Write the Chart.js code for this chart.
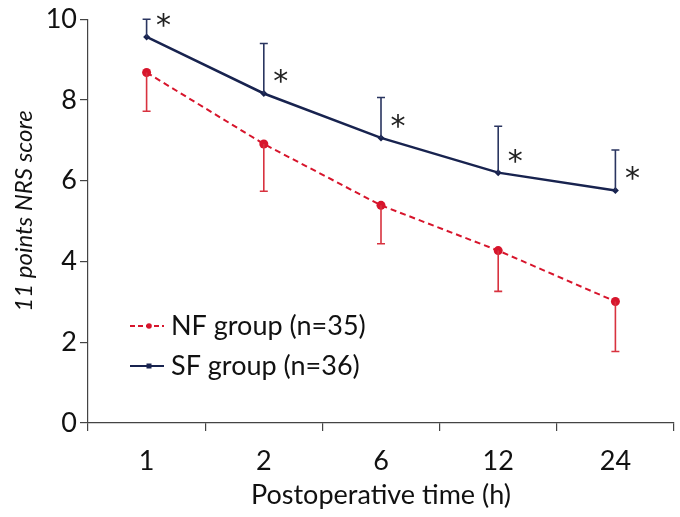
<!DOCTYPE html>
<html><head><meta charset="utf-8">
<script src="https://cdn.jsdelivr.net/npm/chart.js@4/dist/chart.umd.min.js"></script>
<style>html,body{margin:0;padding:0;background:#fff}#wrap{width:680px;height:517px}</style>
</head><body><div id="wrap"><canvas id="c" width="680" height="517"></canvas></div>
<script>
const categories = ['1','2','6','12','24'];
const nfMean = [8.68, 6.91, 5.39, 4.27, 3.01];
const nfSD   = [0.96, 1.17, 0.95, 1.01, 1.24];
const sfMean = [9.56, 8.16, 7.06, 6.20, 5.76];
const sfSD   = [0.44, 1.24, 1.00, 1.15, 1.00];
const sigMarks = ['*','*','*','*','*'];
const yTicks = [0,2,4,6,8,10];
const nfLabel = 'NF group (n=35)';
const sfLabel = 'SF group (n=36)';
const yTitle = '11 points NRS score';
const xTitle = 'Postoperative time (h)';
const RED = '#d7152c', NAVY = '#18234f';
const FONT = 'Lato, "Open Sans", sans-serif';

const errPlugin = {
  id:'err',
  afterDatasetsDraw(chart){
    const ctx = chart.ctx, xs = chart.scales.x, ys = chart.scales.y;
    const draw = (mean, sd, dir, color) => {
      ctx.save(); ctx.strokeStyle = color; ctx.lineWidth = 1.6;
      mean.forEach((m,i)=>{
        const x = xs.getPixelForValue(i);
        const y0 = ys.getPixelForValue(m), y1 = ys.getPixelForValue(m + dir*sd[i]);
        ctx.beginPath(); ctx.moveTo(x,y0); ctx.lineTo(x,y1);
        ctx.moveTo(x-4,y1); ctx.lineTo(x+4,y1); ctx.stroke();
      });
      ctx.restore();
    };
    draw(nfMean, nfSD, -1, '#d8323f');
    draw(sfMean, sfSD, 1, '#2a3560');
    // asterisks
    ctx.save(); ctx.fillStyle='#222'; ctx.font='30px "DejaVu Sans", sans-serif';
    ctx.textAlign='center'; ctx.textBaseline='alphabetic';
    sfMean.forEach((m,i)=>{
      const x = xs.getPixelForValue(i), y = ys.getPixelForValue(m);
      ctx.fillText(sigMarks[i], x+17, y-2);
    });
    ctx.restore();
    // legend
    const items = [[nfLabel, RED, [5,3], 'circle', 326],[sfLabel, NAVY, [], 'rect', 366]];
    items.forEach(([lab,col,dash,pt,y])=>{
      ctx.save(); ctx.strokeStyle=col; ctx.fillStyle=col; ctx.lineWidth=1.8; ctx.setLineDash(dash);
      ctx.beginPath(); ctx.moveTo(130,y); ctx.lineTo(164,y); ctx.stroke();
      ctx.setLineDash([]);
      if(pt==='circle'){ctx.beginPath(); ctx.arc(149,y,2.8,0,Math.PI*2); ctx.fill();}
      else ctx.fillRect(146.5,y-2.5,5,5);
      ctx.fillStyle='#111'; ctx.font='27px '+FONT; ctx.textBaseline='middle'; ctx.textAlign='left';
      ctx.fillText(lab, 171, y);
      ctx.restore();
    });
    // y title
    ctx.save(); ctx.translate(24, 211); ctx.rotate(-Math.PI/2);
    ctx.fillStyle='#111'; ctx.font='italic 24px '+FONT; ctx.textAlign='center'; ctx.textBaseline='middle';
    ctx.fillText(yTitle, 0, 0); ctx.restore();
  }
};

new Chart(document.getElementById('c'), {
  type:'line',
  data:{labels:categories, datasets:[
    {label:nfLabel, data:nfMean, borderColor:RED, backgroundColor:RED, borderWidth:2, borderDash:[6,4],
     pointRadius:4.5, pointStyle:'circle', pointBorderWidth:0, tension:0},
    {label:sfLabel, data:sfMean, borderColor:NAVY, backgroundColor:NAVY, borderWidth:2.5,
     pointRadius:3.5, pointStyle:'rectRot', pointBorderWidth:0, tension:0}
  ]},
  options:{
    responsive:false, animation:false,
    layout:{padding:{left:0,right:6,top:11,bottom:0}},
    plugins:{legend:{display:false}, tooltip:{enabled:false}},
    scales:{
      x:{offset:true,
        grid:{offset:true, drawOnChartArea:false, drawTicks:true, tickLength:8, color:'#444', lineWidth:1.2},
        border:{color:'#444', width:1.2},
        ticks:{font:{size:27, family:FONT}, color:'#111', padding:14},
        title:{display:true, text:xTitle, font:{size:27, family:FONT}, color:'#111', padding:{top:0,bottom:6}},
        afterFit(s){ s.height = 94; }
      },
      y:{min:0, max:10,
        afterBuildTicks(s){ s.ticks = yTicks.map(v=>({value:v})); },
        grid:{drawOnChartArea:false, drawTicks:true, tickLength:8, color:'#444', lineWidth:1.2},
        border:{color:'#444', width:1.2},
        ticks:{font:{size:27, family:FONT}, color:'#111', padding:3},
        afterFit(s){ s.width = 88; }
      }
    }
  },
  plugins:[errPlugin]
});
</script></body></html>
